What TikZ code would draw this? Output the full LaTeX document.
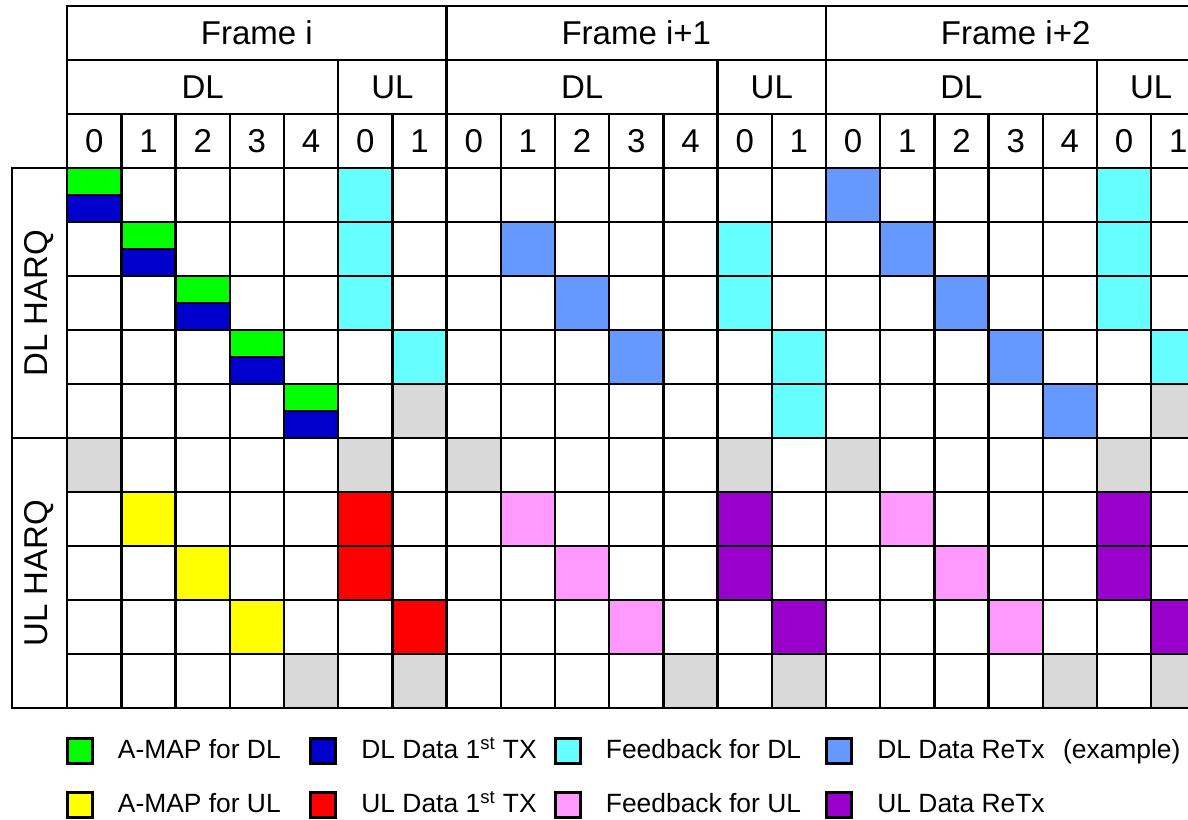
\documentclass[tikz,border=0pt]{standalone}
\usepackage{fontspec}
\setmainfont{Liberation Sans}
\usetikzlibrary{positioning}
\definecolor{amapdl}{HTML}{00FF00}
\definecolor{datadl}{HTML}{0000CC}
\definecolor{fbdl}{HTML}{66FFFF}
\definecolor{retxdl}{HTML}{6699FF}
\definecolor{amapul}{HTML}{FFFF00}
\definecolor{dataul}{HTML}{FF0000}
\definecolor{fbul}{HTML}{FF99FF}
\definecolor{retxul}{HTML}{9900CC}
\definecolor{idlec}{HTML}{D9D9D9}
\tikzset{
  gridline/.style={line width=1.25pt, black, line cap=rect},
  hdr/.style={font=\fontsize{16.5}{20}\selectfont, inner sep=0pt},
  key/.style={draw, line width=1.5pt, minimum size=12.5pt, inner sep=0pt},
  keytxt/.style={font=\fontsize{13.2}{16}\selectfont, inner sep=0pt,
                 text height=0.72em, text depth=0pt, right=12pt of #1},
}
% grid geometry (picture units = image pixels)
\def\xo{67.2}
\def\yo{168}
\def\cw{54.2}
\def\rh{54}
\newcommand\paintcell[3]{\fill[#1] ({\xo+#2*\cw},{\yo+#3*\rh}) rectangle ++(\cw,\rh);}

\begin{document}
\begin{tikzpicture}[x=0.5pt, y=-0.5pt]
  \useasboundingbox (0,0) rectangle (1188,819);
  \clip (0,0) rectangle (1188,819);

  % cell fills
  \foreach \c/\r in {5/0,19/0,5/1,12/1,19/1,5/2,12/2,19/2,6/3,13/3,20/3,13/4}
    {\paintcell{fbdl}{\c}{\r}}
  \foreach \c/\r in {14/0,8/1,15/1,9/2,16/2,10/3,17/3,18/4}
    {\paintcell{retxdl}{\c}{\r}}
  \foreach \c/\r in {6/4,20/4,0/5,5/5,7/5,12/5,14/5,19/5,4/9,6/9,11/9,13/9,18/9,20/9}
    {\paintcell{idlec}{\c}{\r}}
  \foreach \c/\r in {1/6,2/7,3/8}
    {\paintcell{amapul}{\c}{\r}}
  \foreach \c/\r in {5/6,5/7,6/8}
    {\paintcell{dataul}{\c}{\r}}
  \foreach \c/\r in {8/6,9/7,10/8,15/6,16/7,17/8}
    {\paintcell{fbul}{\c}{\r}}
  \foreach \c/\r in {12/6,12/7,13/8,19/6,19/7,20/8}
    {\paintcell{retxul}{\c}{\r}}
  % A-MAP + first TX share one slot
  \foreach \k in {0,...,4} {
    \fill[amapdl] ({\xo+\k*\cw},{\yo+\k*\rh}) rectangle ++(\cw,\rh/2);
    \fill[datadl] ({\xo+\k*\cw},{\yo+(\k+0.5)*\rh}) rectangle ++(\cw,\rh/2);
    \draw[gridline] ({\xo+\k*\cw},{\yo+(\k+0.5)*\rh}) -- ++(\cw,0);
  }

  % grid lines
  \foreach \y in {6,60,114}
    \draw[gridline] (\xo,\y) -- ({\xo+21*\cw},\y);
  \foreach \r in {0,...,10}
    \draw[gridline] (\xo,{\yo+\r*\rh}) -- ({\xo+21*\cw},{\yo+\r*\rh});
  \foreach \c in {0,...,21}
    \draw[gridline] ({\xo+\c*\cw},114) -- ({\xo+\c*\cw},{\yo+10*\rh});
  \foreach \c in {0,7,14,21}
    \draw[gridline] ({\xo+\c*\cw},6) -- ({\xo+\c*\cw},60);
  \foreach \c in {0,5,7,12,14,19,21}
    \draw[gridline] ({\xo+\c*\cw},60) -- ({\xo+\c*\cw},114);
  \draw[gridline] (12,\yo) rectangle (\xo,{\yo+10*\rh});
  \draw[gridline] (12,{\yo+5*\rh}) -- (\xo,{\yo+5*\rh});

  % headers
  \foreach \f/\lab in {0/Frame i,1/Frame i+1,2/Frame i+2} {
    \node[hdr] (frame\f) at ({\xo+(7*\f+3.5)*\cw},33) {\lab};
    \node[hdr] (dl\f) at ({\xo+(7*\f+2.5)*\cw},87) {DL};
    \node[hdr] (ul\f) at ({\xo+(7*\f+6)*\cw},87) {UL};
    \foreach \k in {0,...,4}
      \node[hdr] (dl\f n\k) at ({\xo+(7*\f+\k+0.5)*\cw},141) {\k};
    \foreach \k in {0,1}
      \node[hdr] (ul\f n\k) at ({\xo+(7*\f+5+\k+0.5)*\cw},141) {\k};
  }
  \node[hdr, rotate=90] (dlharq) at (39,{\yo+2.5*\rh}) {DL HARQ};
  \node[hdr, rotate=90] (ulharq) at (39,{\yo+7.5*\rh}) {UL HARQ};

  % legend
  \node[key, fill=amapdl] (kamapdl) at (79.5,751) {};
  \node[keytxt=kamapdl] (tamapdl) {A-MAP for DL};
  \node[key, fill=datadl] (kdatadl) at (323,751) {};
  \node[keytxt=kdatadl] (tdatadl) {DL Data 1\textsuperscript{st} TX};
  \node[key, fill=fbdl] (kfbdl) at (567.5,751) {};
  \node[keytxt=kfbdl] (tfbdl) {Feedback for DL};
  \node[key, fill=retxdl] (kretxdl) at (839,751) {};
  \node[keytxt=kretxdl] (tretxdl) {DL Data ReTx\hspace{0.7em}(example)};

  \node[key, fill=amapul] (kamapul) at (79.5,805) {};
  \node[keytxt=kamapul] (tamapul) {A-MAP for UL};
  \node[key, fill=dataul] (kdataul) at (323,805) {};
  \node[keytxt=kdataul] (tdataul) {UL Data 1\textsuperscript{st} TX};
  \node[key, fill=fbul] (kfbul) at (567.5,805) {};
  \node[keytxt=kfbul] (tfbul) {Feedback for UL};
  \node[key, fill=retxul] (kretxul) at (839,805) {};
  \node[keytxt=kretxul] (tretxul) {UL Data ReTx};
\end{tikzpicture}
\end{document}
